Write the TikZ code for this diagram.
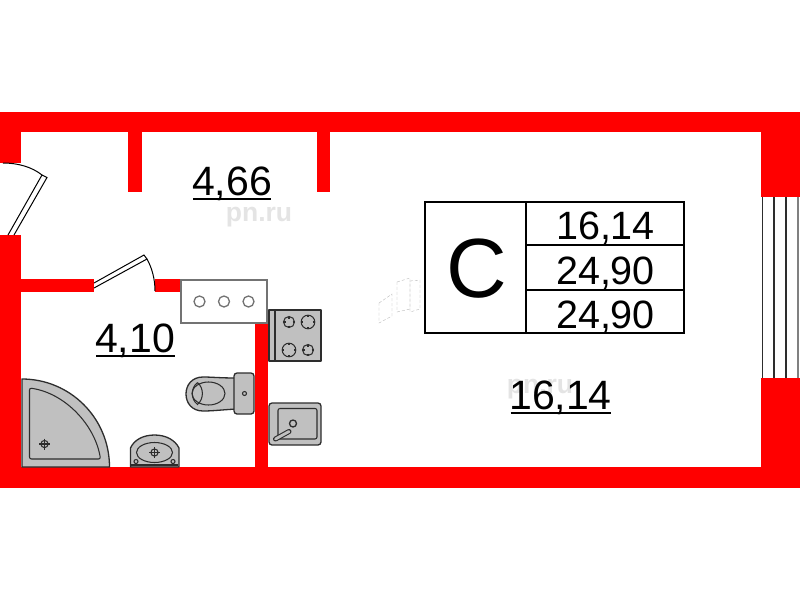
\documentclass[tikz,border=0pt]{standalone}
\usepackage{fontspec}
\setmainfont{Liberation Sans}
\definecolor{wallred}{RGB}{255,0,0}
\definecolor{fixgray}{RGB}{192,192,192}
\definecolor{fixline}{RGB}{45,45,45}
\definecolor{wmgray}{RGB}{228,228,228}
\begin{document}
\begin{tikzpicture}[x=1pt,y=-1pt,
  wall/.style={fill=wallred,draw=none},
  fixture/.style={fill=fixgray,draw=fixline,line width=1.3pt,line join=round},
  dline/.style={draw=fixline,line width=1.05pt},
  doorline/.style={draw=black,line width=1pt},
  tableline/.style={draw=black,line width=2.5pt},
  bigtext/.style={font=\fontsize{41}{41}\selectfont,inner sep=0pt,anchor=base,text=black},
  celltext/.style={font=\fontsize{39.5}{39.5}\selectfont,inner sep=0pt,anchor=base,text=black},
  wmark/.style={font=\bfseries\fontsize{26.5}{26.5}\selectfont,inner sep=0pt,anchor=base,text=wmgray},
  ghost/.style={draw=gray!60,line width=0.35pt,densely dashed}
]
\useasboundingbox (0,0) rectangle (800,600);
\fill[white] (0,0) rectangle (800,600);
% walls
\fill[wall] (0,112) rectangle (800,132);
\fill[wall] (0,112) rectangle (21,163);
\fill[wall] (0,235) rectangle (21,488);
\fill[wall] (0,467) rectangle (800,488);
\fill[wall] (761,112) rectangle (800,197);
\fill[wall] (761,378) rectangle (800,488);
\fill[wall] (128,132) rectangle (141.5,191.5);
\fill[wall] (316.5,132) rectangle (329.5,191.5);
\fill[wall] (21,279) rectangle (94,292);
\fill[wall] (155,279) rectangle (181,292);
\fill[wall] (255,323) rectangle (268,467);
% window
\foreach \wx/\wc in {762.5/fixline,774/fixline,786/fixline,798/gray}
  \draw[draw=\wc,line width=1.1pt] (\wx,197) -- (\wx,378);
% entrance door
\draw[doorline] (8,235) -- (42,175) -- (47,177.5) -- (14,235);
\draw[doorline] (3,163) .. controls (18,163) and (32,167) .. (42,175);
% bathroom door
\draw[doorline] (94,283) -- (144,255) -- (147,259) -- (94,288);
\draw[doorline] (147,259) .. controls (152,268) and (155,279) .. (155,291);
% vent box
\draw[draw=gray!90!black,fill=white,line width=1.3pt] (181,280) rectangle (267,323);
\foreach \cx in {199.5,224,248.5}
  \draw[draw=gray!90!black,line width=1.3pt] (\cx,301.5) circle (5.5);
% stove
\draw[fixture] (269,310) rectangle (321,361);
\draw[dline] (275,310) -- (275,361);
\foreach \bx/\by/\br in {289/322/5.5,308/322/6.8,289/350/6.8,308/350/5.5}{
  \draw[dline] (\bx,\by) circle (\br);
  \draw[dline] (\bx-\br,\by) -- (\bx-\br+2,\by) (\bx+\br-2,\by) -- (\bx+\br,\by)
     (\bx,\by-\br) -- (\bx,\by-\br+2) (\bx,\by+\br-2) -- (\bx,\by+\br);
}
% sink
\draw[fixture,rounded corners=3pt] (269,403) rectangle (321,445);
\draw[dline,rounded corners=2pt] (278,408.5) rectangle (317,439);
\draw[draw=fixline,line width=5pt,line cap=round] (275.5,439) -- (289,431.5);
\draw[draw=fixgray,line width=2.8pt,line cap=round] (275.5,439) -- (289,431.5);
\draw[fixture] (293,423.5) circle (3.5);
% toilet
\draw[fixture] (236,378) .. controls (220,378) and (212,377) .. (203,377)
  .. controls (192,377) and (186,385) .. (186,394)
  .. controls (186,403) and (192,411) .. (203,411)
  .. controls (212,411) and (220,410) .. (236,409) -- cycle;
\draw[dline] (208.5,393.5) ellipse (16.5 and 11.5);
\draw[dline] (197.5,382.5) .. controls (190.5,388) and (190.5,399) .. (197.5,404.5)
  .. controls (204,399) and (204,388) .. (197.5,382.5);
\draw[fixture,rounded corners=3pt] (234,373) rectangle (254,414);
\draw[dline] (244.5,393.5) circle (2);
% shower
\draw[fixture] (22,467) -- (22,379) .. controls (70,379) and (109.5,418) .. (109.5,467) -- cycle;
\draw[dline,rounded corners=2pt] (29.5,459) -- (29.5,388) .. controls (65,393) and (95,425) .. (100.5,459) -- cycle;
\draw[dline] (44.5,444) circle (3.6);
\draw[dline] (39,444) -- (50,444) (44.5,438.5) -- (44.5,449.5);
% basin
\draw[fixture] (130.5,467) -- (130.5,448) .. controls (134,440) and (143,435) .. (154.5,435)
  .. controls (166,435) and (175,440) .. (179,448) -- (179,467) -- cycle;
\draw[dline] (154.5,452.5) ellipse (18 and 10);
\draw[dline] (154.5,452.5) circle (3.6);
\draw[dline] (149,452.5) -- (160,452.5) (154.5,447) -- (154.5,458);
\draw[dline] (136,461.5) circle (2);
\draw[dline] (173,461.5) circle (2);
\draw[dline] (131,465) -- (178,465);
% faint traces
\draw[ghost] (379,303) -- (392,294) -- (392,316) -- (379,323) -- cycle;
\draw[ghost] (397,282) -- (410,278) -- (410,309) -- (397,312) -- cycle;
\draw[ghost] (410,281) -- (420,280) -- (420,309) -- (410,312) -- cycle;
% watermarks
\node[wmark] (wma) at (259,221) {pn.ru};
\node[wmark] (wmb) at (540,393) {pn.ru};
% table
\draw[tableline] (425,202) rectangle (684,333);
\draw[tableline] (526,202) -- (526,333);
\draw[tableline] (526,245) -- (684,245);
\draw[tableline] (526,290) -- (684,290);
\node[inner sep=0pt,anchor=base,font=\fontsize{84}{84}\selectfont] (cls) at (477,297) {С};
\node[celltext] (ta) at (605.5,239) {16,14};
\node[celltext] (tb) at (605.5,284) {24,90};
\node[celltext] (tc) at (605.5,328) {24,90};
% room labels
\node[bigtext] (ra) at (232,195) {4,66};
\draw[black,line width=1.5pt] (193,199) -- (271,199);
\node[bigtext] (rb) at (135,352) {4,10};
\draw[black,line width=1.5pt] (96,356) -- (174.5,356);
\node[bigtext] (rc) at (560.5,409) {16,14};
\draw[black,line width=1.5pt] (510.5,413) -- (610.5,413);
\end{tikzpicture}
\end{document}
